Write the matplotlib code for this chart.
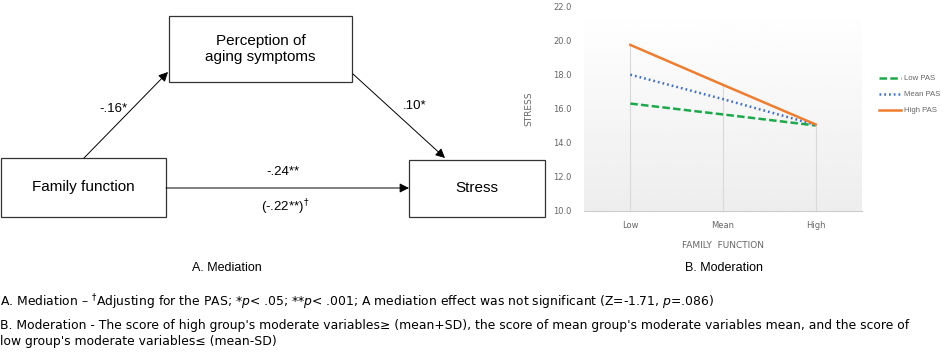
import numpy as np
import matplotlib.pyplot as plt
from matplotlib.patches import Rectangle

# moderation data
levels = ['Low', 'Mean', 'High']
low_pas = [16.32, 15.68, 15.03]
mean_pas = [18.02, 16.58, 15.07]
high_pas = [19.77, 17.42, 15.09]
yticks = [10.0, 12.0, 14.0, 16.0, 18.0, 20.0, 22.0]

W, H = 943, 357
fig = plt.figure(figsize=(W / 100, H / 100), dpi=100)

arial = ['Liberation Sans', 'DejaVu Sans']

# ---- A. mediation diagram, drawn in pixel space ----
bg = fig.add_axes([0, 0, 1, 1])
bg.set_xlim(0, W)
bg.set_ylim(H, 0)
bg.axis('off')

def box(x0, y0, x1, y1, text):
    bg.add_patch(Rectangle((x0, y0), x1 - x0, y1 - y0, fill=False,
                           edgecolor='#333333', lw=0.9))
    bg.text((x0 + x1) / 2, (y0 + y1) / 2, text, ha='center', va='center',
            fontsize=11, family=arial, linespacing=1.15)

box(0.5, 158, 166, 217, 'Family function')
box(169, 16, 352, 82, 'Perception of\naging symptoms')
box(409, 160, 545, 217, 'Stress')

def arrow(x0, y0, x1, y1):
    bg.annotate('', xy=(x1, y1), xytext=(x0, y0),
                arrowprops=dict(arrowstyle='-|>', color='black', lw=0.7,
                                mutation_scale=14, shrinkA=0, shrinkB=0))

arrow(84, 158, 168, 72)
arrow(353, 74, 445, 158)
arrow(166, 188, 409, 188)

bg.text(113, 109, '-.16*', ha='center', va='center', fontsize=9.5, family=arial)
bg.text(415, 106, '.10*', ha='center', va='center', fontsize=9.5, family=arial)
bg.text(283, 172, '-.24**', ha='center', va='center', fontsize=9.5, family=arial)
bg.text(285, 207, '(-.22**)$^{\\dagger}$', ha='center', va='center', fontsize=9.5, family=arial)

bg.text(227, 268, 'A. Mediation', ha='center', va='center', fontsize=9, family=arial)
bg.text(724, 268, 'B. Moderation', ha='center', va='center', fontsize=9, family=arial)

notes = [
    'A. Mediation \u2013 $^{\\dagger}$Adjusting for the PAS; *$p$< .05; **$p$< .001; '
    'A mediation effect was not significant (Z=-1.71, $p$=.086)',
    "B. Moderation - The score of high group's moderate variables\u2265 (mean+SD), the score of "
    "mean group's moderate variables mean, and the score of",
    "low group's moderate variables\u2264 (mean-SD)",
]
for y, t in zip([302, 325, 342], notes):
    bg.text(0, y, t, ha='left', va='center', fontsize=8.9, family='DejaVu Sans')

# ---- B. moderation line chart ----
ax = fig.add_axes([584 / W, 1 - 211 / H, (862 - 584) / W, (211 - 7) / H])
x = np.arange(len(levels))
ax.imshow(np.linspace(1.0, 0.93, 100).reshape(-1, 1), cmap='gray', vmin=0, vmax=1,
          extent=[-0.5, 2.5, 10, 22], aspect='auto', zorder=0)
tops = np.max([low_pas, mean_pas, high_pas], axis=0)
ax.vlines(x, 10, tops, color='#d9d9d9', lw=0.8, zorder=1)
ax.plot(x, low_pas, color='#1aaa4a', lw=1.8, ls=(0, (3, 1.3)), label='Low PAS', zorder=3)
ax.plot(x, mean_pas, color='#3f6fd0', lw=1.8, ls=(0, (0.7, 1.2)), label='Mean PAS', zorder=3)
ax.plot(x, high_pas, color='#f07d2e', lw=1.8, label='High PAS', zorder=4)
ax.set_xlim(-0.5, 2.5)
ax.set_ylim(10, 22)
ax.set_xticks(x)
ax.set_xticklabels(levels)
ax.set_yticks(yticks)
ax.set_yticklabels(['%.1f' % v for v in yticks])
ax.tick_params(axis='y', length=0, labelsize=6, labelcolor='#666666', pad=9)
ax.tick_params(axis='x', length=0, labelsize=6, labelcolor='#666666', pad=7)
for s in ['top', 'right', 'left']:
    ax.spines[s].set_visible(False)
ax.spines['bottom'].set_color('#cccccc')
ax.set_ylabel('STRESS', fontsize=6.5, color='#666666', labelpad=14)
ax.set_xlabel('FAMILY  FUNCTION', fontsize=6.5, color='#666666', labelpad=8)
ax.legend(loc='center left', bbox_to_anchor=(1.06, 0.57), frameon=False,
          prop={'family': arial, 'size': 5.6},
          labelcolor='#666666', handlelength=2.9, handletextpad=0.4, labelspacing=1.1,
          borderaxespad=0, borderpad=0)

fig.savefig('out.png', dpi=100)
